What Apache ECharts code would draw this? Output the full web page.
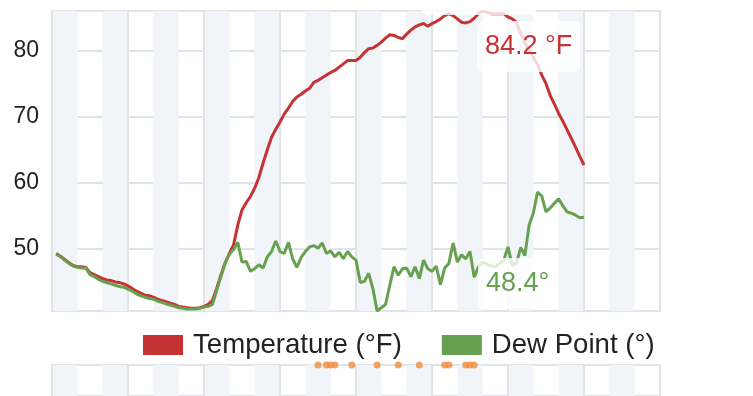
<!DOCTYPE html>
<html>
<head>
<meta charset="utf-8">
<script src="https://cdn.jsdelivr.net/npm/echarts@6/dist/echarts.min.js"></script>
<style>
html,body{margin:0;padding:0;background:#fff;}
#c{width:753px;height:396px;}
</style>
</head>
<body>
<div id="c"></div>
<script>
// 10-minute time slots over one day (category axis)
const times = [];
for (let m = 0; m <= 1440; m += 10) {
  const h = String(Math.floor(m / 60)).padStart(2, '0');
  const mm = String(m % 60).padStart(2, '0');
  times.push(h + ':' + mm);
}

const temperature = [null,
  49.3, 48.9, 48.4, 47.9, 47.5, 47.3, 47.3, 47.2, 46.4, 46.1,
  45.8, 45.5, 45.3, 45.2, 45.0, 44.9, 44.7, 44.4, 44.0, 43.6,
  43.3, 43.0, 42.9, 42.7, 42.4, 42.2, 42.0, 41.8, 41.6, 41.3,
  41.2, 41.1, 41.0, 41.0, 41.1, 41.3, 41.6, 42.2, 44.0, 46.0,
  47.9, 49.3, 50.6, 53.6, 55.9, 57.0, 57.9, 59.2, 60.8, 63.0,
  65.0, 66.9, 68.1, 69.2, 70.4, 71.3, 72.3, 73.0, 73.4, 73.9,
  74.3, 75.2, 75.5, 75.9, 76.3, 76.7, 77.0, 77.5, 78.0, 78.5,
  78.5, 78.5, 79.0, 79.7, 80.3, 80.4, 80.8, 81.3, 81.9, 82.4,
  82.3, 82.0, 81.8, 82.5, 83.1, 83.6, 83.9, 84.1, 83.7, 84.1,
  84.4, 84.8, 85.3, 85.6, 85.3, 84.8, 84.3, 84.2, 84.4, 84.9,
  85.6, 86.0, 85.8, 85.6, 85.6, 85.6, 85.6, 85.1, 84.8, 84.3,
  82.6, 81.2, 80.1, 79.0, 77.9, 76.3, 75.0, 73.2, 71.9, 70.5,
  69.3, 68.0, 66.7, 65.4, 64.0, 62.7
];

const dewPoint = [null,
  49.2, 48.8, 48.3, 47.8, 47.4, 47.2, 47.1, 47.1, 46.1, 45.8,
  45.4, 45.1, 44.9, 44.7, 44.5, 44.3, 44.2, 43.9, 43.6, 43.2,
  42.9, 42.7, 42.5, 42.4, 42.1, 41.9, 41.7, 41.5, 41.3, 41.1,
  41.0, 40.9, 40.9, 40.9, 41.0, 41.2, 41.3, 41.6, 43.7, 45.8,
  47.8, 49.2, 49.9, 51.0, 48.0, 48.1, 46.6, 47.0, 47.6, 47.1,
  48.8, 49.6, 51.2, 49.6, 49.3, 51.0, 48.5, 47.2, 48.7, 49.6,
  50.3, 50.5, 50.1, 50.9, 49.3, 49.7, 48.8, 49.5, 48.5, 49.6,
  48.8, 48.3, 44.9, 45.1, 46.3, 44.0, 40.6, 41.1, 41.6, 44.5,
  47.3, 46.0, 47.0, 47.1, 45.8, 47.3, 45.5, 48.3, 47.0, 46.6,
  47.4, 44.6, 47.1, 47.8, 50.9, 48.0, 49.1, 48.5, 49.6, 45.7,
  47.3, 48.0, 47.7, 47.4, 47.3, 47.8, 48.3, 50.3, 47.5, 47.8,
  50.2, 49.0, 53.6, 55.4, 58.6, 58.0, 55.6, 56.2, 56.9, 57.6,
  56.5, 55.6, 55.4, 55.1, 54.7, 54.8
];

// time-slot indices of the orange event markers
const eventSlots = [63, 65, 66, 67, 71, 77, 82, 87, 93, 94, 98, 99, 100];

const seriesNames = ['Temperature (°F)', 'Dew Point (°)'];
const labelTemp = '84.2 °F';
const labelDew = '48.4°';

const FONT = "'Liberation Sans', Arial, Helvetica, sans-serif";
const RED = '#c53333';
const GREEN = '#67a04e';
const ORANGE = '#f08d3c';
const GRIDLINE = '#e2e3e7';
const STRIPE = '#f1f4f9';

function xAxisFor(gi) {
  return {
    type: 'category', gridIndex: gi, data: times, boundaryGap: false,
    axisLabel: { show: false }, axisTick: { show: false }, axisLine: { show: false },
    splitArea: { show: true, interval: 5, areaStyle: { color: [STRIPE, 'rgba(255,255,255,0)'] } },
    splitLine: { show: true, interval: 17, lineStyle: { color: GRIDLINE, width: 2 } }
  };
}

const chart = echarts.init(document.getElementById('c'), null, { renderer: 'canvas' });
chart.setOption({
  animation: false,
  backgroundColor: '#fff',
  textStyle: { fontFamily: FONT },
  grid: [
    { left: 52, right: 93, top: 11, bottom: 85, show: true, borderColor: GRIDLINE, borderWidth: 2, backgroundColor: 'transparent' },
    { left: 52, right: 93, top: 365, height: 80, show: true, borderColor: GRIDLINE, borderWidth: 2, backgroundColor: 'transparent' }
  ],
  legend: {
    data: seriesNames, left: 138, top: 326, icon: 'rect', itemWidth: 40, itemHeight: 20, itemGap: 40,
    textStyle: { fontSize: 27.6, color: '#222', fontFamily: FONT, padding: [0, 0, 0, 5] }
  },
  xAxis: [xAxisFor(0), xAxisFor(1)],
  yAxis: [
    {
      type: 'value', gridIndex: 0, min: 'dataMin', max: 'dataMax', scale: true,
      axisLine: { show: false }, axisTick: { show: false },
      axisLabel: { fontSize: 23, color: '#222', margin: 13, showMinLabel: false, showMaxLabel: false, fontFamily: FONT },
      splitLine: { show: true, lineStyle: { color: GRIDLINE, width: 2 } }
    },
    {
      type: 'value', gridIndex: 1, min: 0, max: 1,
      axisLine: { show: false }, axisTick: { show: false }, axisLabel: { show: false },
      splitLine: { show: false }
    }
  ],
  series: [
    {
      name: seriesNames[0], type: 'line', xAxisIndex: 0, yAxisIndex: 0, data: temperature,
      showSymbol: false, color: RED, lineStyle: { color: RED, width: 3 }, z: 3
    },
    {
      name: seriesNames[1], type: 'line', xAxisIndex: 0, yAxisIndex: 0, data: dewPoint,
      showSymbol: false, color: GREEN, lineStyle: { color: GREEN, width: 3 }, z: 4
    },
    {
      name: 'Events', type: 'scatter', xAxisIndex: 1, yAxisIndex: 1,
      data: eventSlots.map(s => [s, 1]), symbolSize: 7, color: ORANGE, clip: false, z: 5
    }
  ],
  graphic: [
    {
      type: 'rect', z: 100, shape: { x: 422, y: -30, width: 115, height: 45, r: 6 },
      style: { fill: 'rgba(255,255,255,0.8)' }
    },
    {
      type: 'text', z: 100, x: 477, y: 21,
      style: {
        text: labelTemp, fill: RED, font: '27px ' + FONT, align: 'left', verticalAlign: 'top',
        backgroundColor: 'rgba(255,255,255,0.8)', padding: [12, 8, 12, 8], borderRadius: 6
      }
    },
    {
      type: 'text', z: 100, x: 478, y: 258,
      style: {
        text: labelDew, fill: GREEN, font: '27px ' + FONT, align: 'left', verticalAlign: 'top',
        backgroundColor: 'rgba(255,255,255,0.8)', padding: [12, 8, 12, 8], borderRadius: 6
      }
    }
  ]
});
</script>
</body>
</html>
